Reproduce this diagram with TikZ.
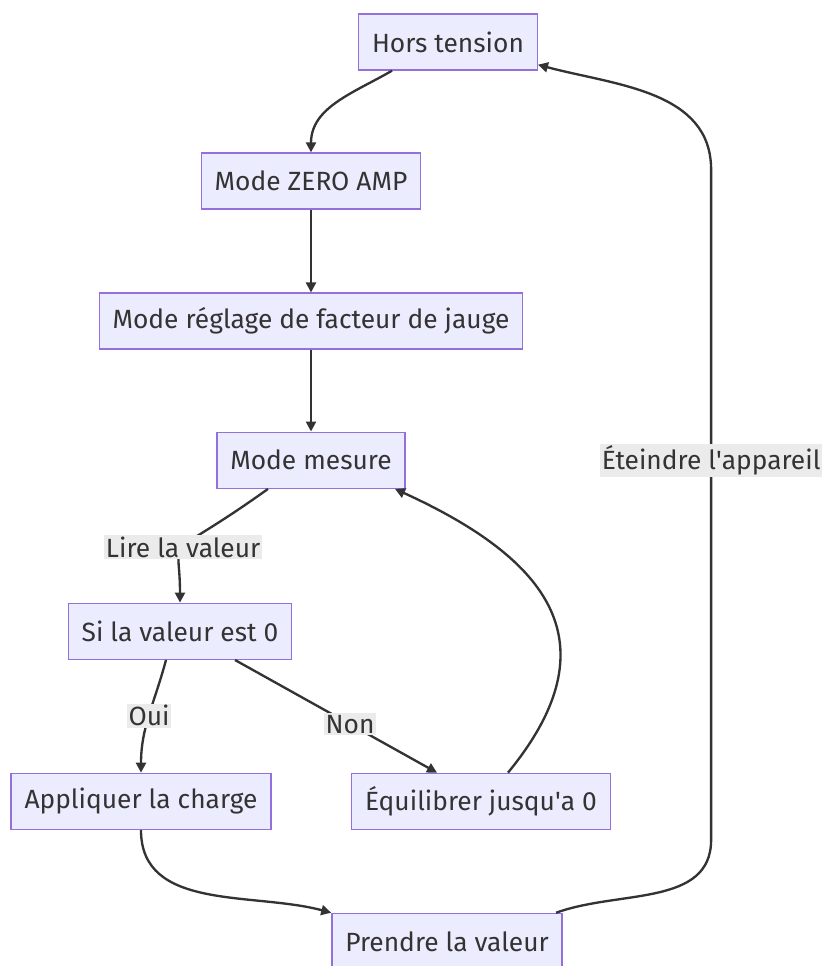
\documentclass[tikz,border=0pt]{standalone}
\usepackage{fontspec}
\setmainfont{Fira Sans}
\usepackage{tikz}
\usetikzlibrary{arrows.meta, positioning, calc}

\definecolor{boxfill}{HTML}{ECECFF}
\definecolor{boxline}{HTML}{9370DB}
\definecolor{edgeline}{HTML}{333333}
\definecolor{lblbg}{HTML}{EBEBEB}
\definecolor{txtcol}{HTML}{333333}

\begin{document}
\begin{tikzpicture}[
    node distance=2.5cm,
    block/.style={rectangle, draw=boxline, fill=boxfill, line width=1.2pt, minimum height=1.68cm, inner xsep=0.4cm, text=txtcol},
    arrow/.style={-{Triangle[length=0.3cm, width=0.3cm]}, line width=2pt, draw=edgeline},
    lbl/.style={fill=lblbg, inner sep=1.5pt, text=txtcol},
    every node/.style={font=\fontsize{22.5}{26}\selectfont}
]
\useasboundingbox (0,0) rectangle (24.69,-28.98);

% Modes of the device
\node[block] (hors) at (13.44,-1.26) {Hors tension};
\node[block, below=2.45cm of hors, xshift=-4.11cm] (zero) {Mode ZERO AMP};
\node[block, below=2.48cm of zero] (reglage) {Mode réglage de facteur de jauge};
\node[block, below=2.45cm of reglage] (mesure) {Mode mesure};

% Test of the value
\node[block, below=3.41cm of mesure, xshift=-3.93cm] (si) {Si la valeur est 0};
\node[block, below=3.38cm of si, xshift=-1.17cm] (appl) {Appliquer la charge};
\node[block, below=3.38cm of si, xshift=9.03cm] (equi) {Équilibrer jusqu\textquotesingle a 0};

% Result
\node[block, below=2.48cm of appl, xshift=9.18cm] (prendre) {Prendre la valeur};

% Arrows
\draw[arrow] ([xshift=-1.68cm]hors.south) to[out=210, in=90] (zero.north);
\draw[arrow] (zero) -- (reglage);
\draw[arrow] (reglage) -- (mesure);

\draw[arrow] ([xshift=-1.29cm]mesure.south) .. controls +(-3.27cm,-2.34cm) and +(0,2.22cm) .. node[lbl, midway] {Lire la valeur} (si.north);

\draw[arrow] ([xshift=-0.42cm]si.south) to[out=-105, in=90] node[lbl] {Oui} (appl.north);
\draw[arrow] ([xshift=1.65cm]si.south) -- node[lbl, pos=0.57] {Non} ([xshift=-1.32cm]equi.north);

% Back to measuring
\draw[arrow] ([xshift=0.81cm]equi.north) .. controls +(3.2cm,3.9cm) and +(4.6cm,-2.1cm) .. ([xshift=2.52cm]mesure.south);

\draw[arrow] (appl.south) to[out=-90, in=165] (prendre.north west);

% Switching off
\draw[arrow] ([xshift=-0.2cm]prendre.north east) to[out=20, in=-90] ++(4.65cm,2.19cm) -- node[lbl, pos=0.566] {Éteindre l\textquotesingle appareil} ++(0,20.1cm) to[out=90, in=-15] ([yshift=0.18cm]hors.south east);

\end{tikzpicture}
\end{document}
